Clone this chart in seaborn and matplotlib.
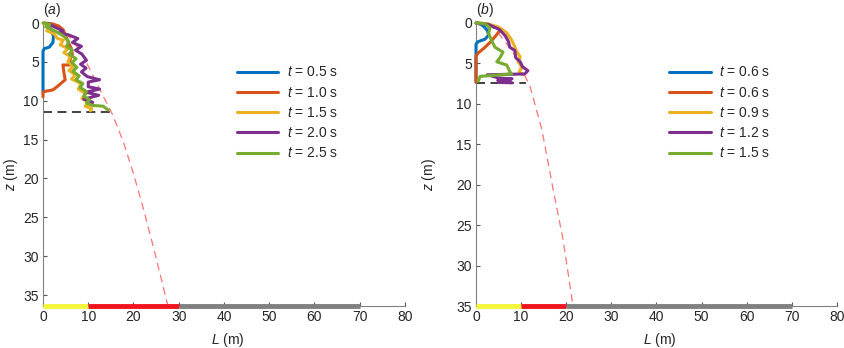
import matplotlib
matplotlib.use('Agg')
import matplotlib.pyplot as plt
import seaborn as sns
import pandas as pd

sns.set_style('ticks')
plt.rcParams['font.family'] = ['Liberation Sans', 'DejaVu Sans']
plt.rcParams['mathtext.fontset'] = 'custom'
plt.rcParams['mathtext.it'] = 'Liberation Sans:italic'
plt.rcParams['mathtext.rm'] = 'Liberation Sans'
plt.rcParams['font.size'] = 10

colors = ['#0072BD', '#D95319', '#EDB120', '#7E2F8E', '#77AC30']

# ---- panel (a) ----
labels_a = ['0.5', '1.0', '1.5', '2.0', '2.5']
La = [
    [0.3, 1.2, 1.9, 2.3, 2.2, 1.4, 0.3, 0, 0, 0],
    [0.3, 2.0, 3.5, 4.5, 5.0, 5.5, 6.2, 6.5, 6.0, 6.0, 4.4, 4.6, 4.9, 3.3, 2.2, 0.4, 0, 0],
    [0, 0.8, 1.5, 0.8, 2.5, 3.2, 4.5, 3.8, 5.5, 4.6, 6.0, 5.5, 6.8, 5.7, 7.2, 6.3, 8.4, 7.8, 9.5, 8.6,
     10.2, 9.3, 10.8, 10.5],
    [1.2, 2.5, 4.4, 3.5, 5.5, 7.7, 6.5, 8.5, 7.2, 8.6, 9.6, 8.3, 9.5, 8.5, 9.8, 12.5, 10.0, 10.0, 12.5,
     9.5, 12.3, 9.0, 11.0, 10.5],
    [0, 1.5, 0.6, 2.2, 3.5, 4.8, 5.7, 5.2, 6.5, 5.8, 7.3, 6.4, 7.5, 6.6, 8.0, 7.3, 8.8, 8.2, 9.6, 9.0,
     10.3, 9.6, 11.0, 13.3, 14.4],
]
za = [
    [0, 0.3, 0.9, 1.7, 2.5, 3.1, 3.3, 3.6, 6.0, 8.8],
    [0, 0.1, 0.4, 0.9, 1.6, 2.4, 3.2, 4.1, 4.6, 5.4, 5.4, 6.3, 7.3, 8.1, 8.6, 8.8, 8.9, 9.5],
    [0, 0.3, 0.6, 1.0, 1.4, 2.0, 2.2, 2.8, 3.3, 3.8, 4.3, 5.0, 5.6, 6.1, 6.7, 7.2, 7.8, 8.5, 9.1, 9.7,
     10.2, 10.7, 11.0, 11.3],
    [0.1, 0.5, 1.0, 1.3, 1.5, 2.0, 2.5, 3.0, 3.5, 4.0, 4.8, 5.3, 5.8, 6.3, 6.9, 7.3, 7.6, 8.2, 8.5,
     8.9, 9.3, 9.8, 10.2, 10.5],
    [0, 0.2, 0.5, 0.9, 1.3, 1.8, 2.4, 3.0, 3.5, 4.0, 4.6, 5.1, 5.7, 6.2, 6.8, 7.3, 7.8, 8.3, 8.8, 9.4,
     9.9, 10.3, 10.6, 10.7, 11.2],
]
env_La = [0, 3.3, 6.0, 8.4, 11.0, 13.2, 15.4, 17.7, 19.9, 22.0, 24.7, 27.6]
env_za = [0, 0.5, 1.9, 3.7, 6.7, 9.3, 11.8, 15.2, 19.2, 23.5, 29.5, 36.4]
front_a = [0, 14.8]
depth_a = 11.5
zmax_a = 36.4
zones_a = [(0, 10), (10, 30), (30, 70)]

# ---- panel (b) ----
labels_b = ['0.6', '0.6', '0.9', '1.2', '1.5']
Lb = [
    [0.3, 1.5, 2.5, 2.8, 2.0, 0.5, 0, 0],
    [0.3, 2.5, 4.5, 5.3, 4.5, 3.3, 1.8, 0.5, 0, 0],
    [0, 2.5, 5.0, 6.8, 7.8, 8.5, 9.0, 9.8, 9.3, 10.2, 9.6, 10.3],
    [0, 2.8, 5.2, 6.5, 7.2, 7.5, 8.6, 8.8, 9.8, 10.3, 11.5, 10.8, 2.5, 5.0, 8.0, 4.8, 7.5, 5.0, 8.0],
    [0, 2.0, 3.1, 2.8, 3.4, 4.2, 6.0, 5.3, 4.6, 6.8, 7.5, 7.9, 0.9, 0.5],
]
zb = [
    [0, 0.3, 0.9, 1.5, 2.0, 2.3, 2.6, 7.3],
    [0, 0.1, 0.5, 0.9, 1.5, 2.3, 3.1, 3.7, 4.1, 7.3],
    [0, 0.1, 0.5, 1.2, 2.0, 2.8, 3.5, 4.2, 4.8, 5.4, 6.0, 6.4],
    [0, 0.2, 0.8, 1.6, 2.3, 3.0, 3.4, 4.3, 4.8, 5.4, 5.9, 6.3, 6.4, 6.8, 6.9, 7.1, 7.2, 7.35, 7.4],
    [0, 0.1, 0.6, 1.3, 2.1, 3.0, 3.6, 4.3, 4.8, 5.2, 6.0, 6.3, 6.6, 7.2],
]
env_Lb = [0, 3.1, 4.9, 8.2, 10.4, 12.0, 14.6, 17.1, 19.3, 21.5]
env_zb = [0, 0.25, 1.2, 3.6, 6.0, 7.9, 13.2, 20.6, 26.8, 35.0]
front_b = [0, 11.0]
depth_b = 7.4
zmax_b = 35.0
zones_b = [(0, 10), (10, 20), (20, 70)]

zone_colors = ['#F5F53B', '#F0141E', '#808080']

fig = plt.figure(figsize=(8.45, 3.48), dpi=100)
ax1 = fig.add_axes([43 / 845, 1 - 306 / 348, 362 / 845, 283 / 348])
ax2 = fig.add_axes([476 / 845, 1 - 306 / 348, 361 / 845, 283 / 348])


def draw(ax, Ls, zs, labels, envL, envz, front, depth, zmax, zones, tag, ylab_x):
    for i in range(len(Ls)):
        df = pd.DataFrame({'L': Ls[i], 'z': zs[i]})
        sns.lineplot(data=df, x='L', y='z', sort=False, estimator=None, ax=ax,
                     color=colors[i], lw=2.2, label=r'$t$ = %s s' % labels[i])
    for ln in ax.lines:
        ln.set_clip_on(False)
        ln.set_zorder(4)
    sns.lineplot(x=envL, y=envz, sort=False, estimator=None, ax=ax, color='#FF5a5a',
                 lw=0.9, ls=(0, (6, 4)), alpha=0.85)
    sns.lineplot(x=front, y=[depth, depth], sort=False, estimator=None, ax=ax,
                 color='#333333', lw=1.3, ls=(0, (5, 3)))
    for (a, b), c in zip(zones, zone_colors):
        ax.plot([a, b], [zmax, zmax], color=c, lw=3.5, solid_capstyle='butt', clip_on=False, zorder=5)
    ax.set_xlim(0, 80)
    ax.set_ylim(zmax, 0)
    ax.set_xticks(range(0, 81, 10))
    ax.set_yticks(range(0, 36, 5))
    for s in ['top', 'right']:
        ax.spines[s].set_visible(False)
    for s in ['left', 'bottom']:
        ax.spines[s].set_color('#808080')
    ax.tick_params(direction='in', length=3, color='#555555', labelsize=10, pad=3)
    ax.set_xlabel(r'$L$ (m)', fontsize=10)
    ax.set_ylabel(r'$z$ (m)', fontsize=10)
    ax.xaxis.set_label_coords(0.51, -0.09)
    ax.yaxis.set_label_coords(ylab_x, 0.463)
    ax.legend(loc='upper left', bbox_to_anchor=(0.535, 0.85), frameon=False, fontsize=10,
              handlelength=3.0, handletextpad=0.6, labelspacing=0.45, borderpad=0, borderaxespad=0)
    ax.annotate(tag, xy=(0, 1), xycoords='axes fraction', xytext=(0, 3), textcoords='offset points',
                ha='left', va='bottom', fontsize=10)


draw(ax1, La, za, labels_a, env_La, env_za, front_a, depth_a, zmax_a, zones_a, r'($a$)', -0.064)
draw(ax2, Lb, zb, labels_b, env_Lb, env_zb, front_b, depth_b, zmax_b, zones_b, r'($b$)', -0.105)

fig.savefig('out.png', dpi=100)
